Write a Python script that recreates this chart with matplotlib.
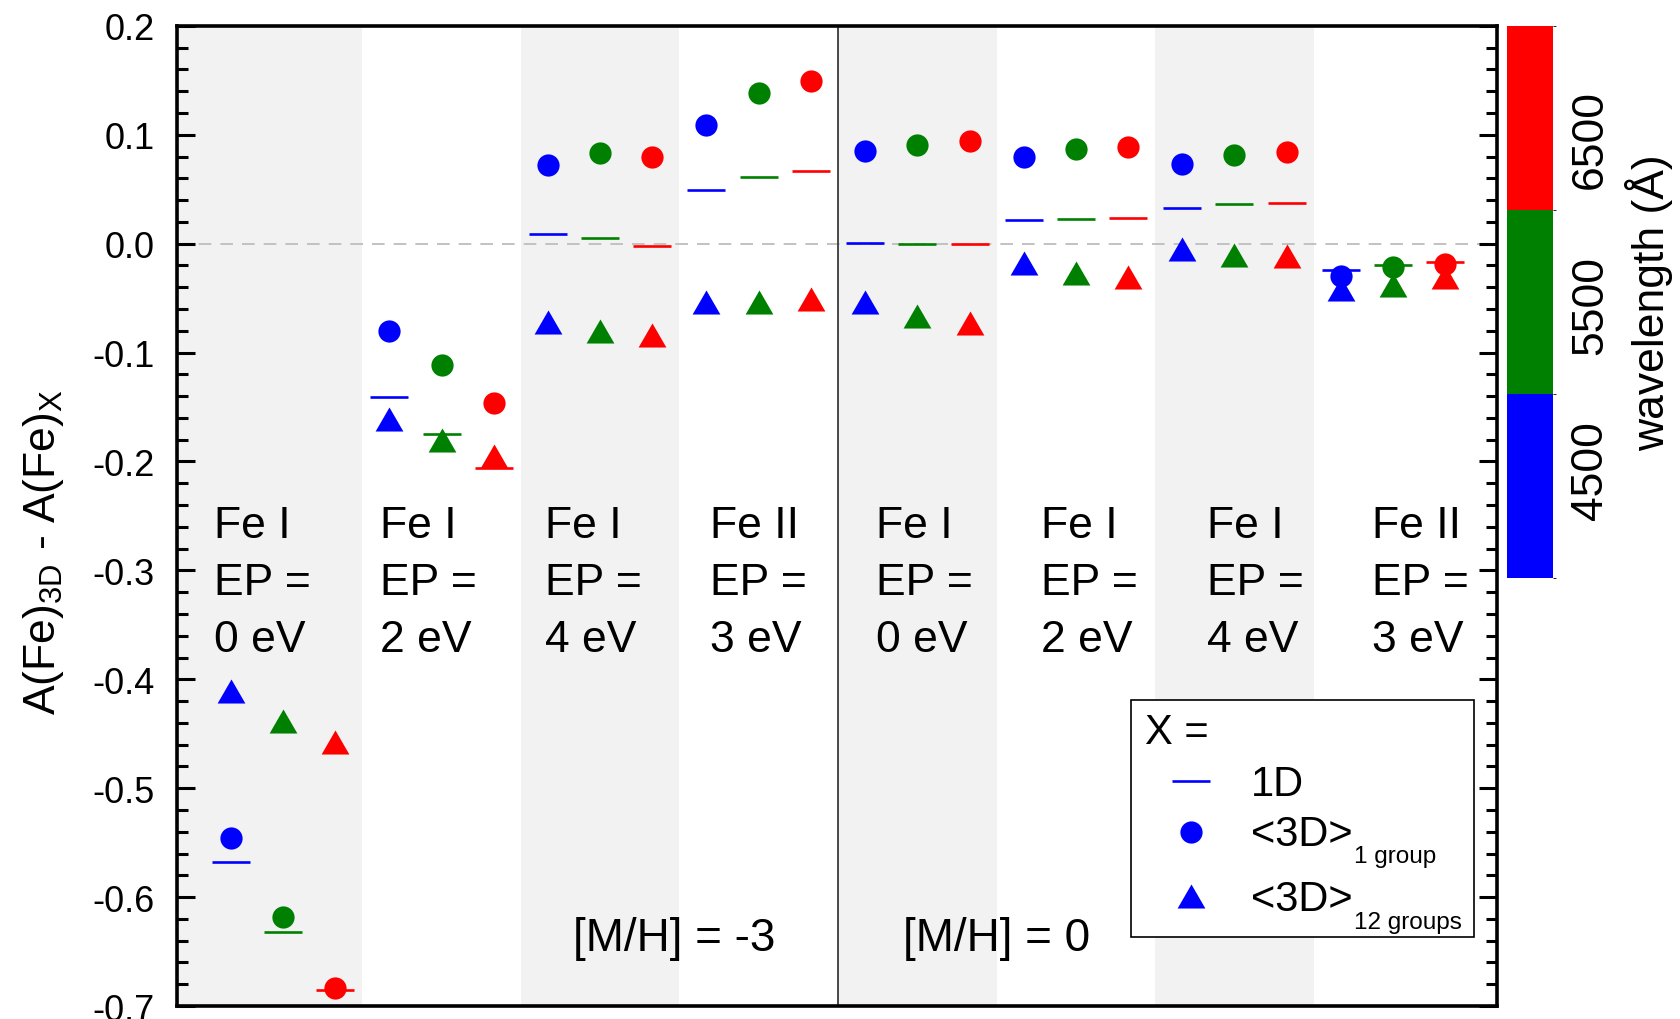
import numpy as np
import matplotlib
matplotlib.use("Agg")
import matplotlib.pyplot as plt
import matplotlib.cm as cm
from matplotlib.colors import ListedColormap, BoundaryNorm
from matplotlib.patches import Rectangle

plt.rcParams['font.family'] = ['Liberation Sans', 'DejaVu Sans']
plt.rcParams['mathtext.default'] = 'regular'

# groups of lines, left 4 at [M/H] = -3, right 4 at [M/H] = 0
species = ["Fe I", "Fe I", "Fe I", "Fe II", "Fe I", "Fe I", "Fe I", "Fe II"]
ep_vals = ["0", "2", "4", "3", "0", "2", "4", "3"]
metallicity = ["-3", "0"]

# wavelength bins and their colours
wavelengths = [4500, 5500, 6500]
wl_colors = ["#0000ff", "#008000", "#ff0000"]
wl_bounds = [3850, 4960, 6070, 7180]

# A(Fe)3D - A(Fe)X, one list per wavelength (4500, 5500, 6500)
diff_1d_4500 = [-0.568, -0.141, 0.009, 0.049, 0.001, 0.022, 0.033, -0.024]
diff_1d_5500 = [-0.632, -0.175, 0.005, 0.061, 0.000, 0.023, 0.036, -0.020]
diff_1d_6500 = [-0.685, -0.206, -0.002, 0.067, 0.000, 0.024, 0.037, -0.017]

diff_1grp_4500 = [-0.546, -0.080, 0.072, 0.109, 0.085, 0.080, 0.073, -0.030]
diff_1grp_5500 = [-0.618, -0.111, 0.083, 0.138, 0.091, 0.087, 0.081, -0.021]
diff_1grp_6500 = [-0.683, -0.146, 0.080, 0.149, 0.094, 0.089, 0.084, -0.019]

diff_12grp_4500 = [-0.411, -0.161, -0.072, -0.054, -0.054, -0.018, -0.005, -0.042]
diff_12grp_5500 = [-0.438, -0.180, -0.080, -0.054, -0.066, -0.027, -0.010, -0.038]
diff_12grp_6500 = [-0.458, -0.195, -0.084, -0.051, -0.073, -0.031, -0.011, -0.031]

diff_1d = [diff_1d_4500, diff_1d_5500, diff_1d_6500]
diff_1grp = [diff_1grp_4500, diff_1grp_5500, diff_1grp_6500]
diff_12grp = [diff_12grp_4500, diff_12grp_5500, diff_12grp_6500]

# equilateral triangle like Origin's
tri = [(0, 0.433), (-0.5, -0.433), (0.5, -0.433)]

fig = plt.figure(figsize=(16.8, 10.2), dpi=100)
ax = fig.add_axes([0.1052, 0.0127, 0.7858, 0.961])

xpos = np.arange(1, len(species) + 1)
xmin, xmax = 0.33, 8.655
ax.set_xlim(xmin, xmax)
ax.set_ylim(-0.7, 0.2)

# alternating shaded bands
for c in xpos[::2]:
    left = c - 0.5 if c > 1 else xmin - 1
    ax.axvspan(left, c + 0.5, color='#f2f2f2', lw=0, zorder=0)

ax.axhline(0, color='#bdbdbd', lw=1.3, dashes=(7, 5), zorder=1)
ax.axvline(4.5, color='#3a3a3a', lw=1.3, zorder=1)

offsets = [-0.33, 0.0, 0.33]
for k in range(3):
    xx = xpos + offsets[k]
    ax.plot(xx, diff_1grp[k], ls='none', marker='o', ms=16, color=wl_colors[k], mew=0, zorder=3)
    ax.plot(xx, diff_12grp[k], ls='none', marker=tri, ms=20, color=wl_colors[k], mew=0, zorder=3)
    ax.plot(xx, diff_1d[k], ls='none', marker='_', ms=27, mew=1.9, color=wl_colors[k], zorder=4)

# group labels
for i in range(len(species)):
    lines = [species[i], "EP =", ep_vals[i] + " eV"]
    for j, s in enumerate(lines):
        ax.text(0.0284 + i * 0.1253, 0.4781 - j * 0.0579, s, transform=ax.transAxes,
                fontsize=32, va='baseline', ha='left', zorder=5)

ax.text(0.300, 0.057, "[M/H] = " + metallicity[0], transform=ax.transAxes, fontsize=33, va='baseline')
ax.text(0.550, 0.057, "[M/H] = " + metallicity[1], transform=ax.transAxes, fontsize=33, va='baseline')

# axes styling
for sp in ax.spines.values():
    sp.set_linewidth(2.6)
ax.set_xticks([])
ax.set_yticks(np.arange(-0.7, 0.21, 0.1))
ax.set_yticks(np.arange(-0.7, 0.2, 0.02), minor=True)
ax.yaxis.set_major_formatter(matplotlib.ticker.FuncFormatter(lambda v, p: f'{round(v, 1) + 0:.1f}'))
ax.tick_params(axis='y', which='both', direction='in', left=True, right=True,
               labelsize=26, pad=16, width=2.2)
ax.tick_params(axis='y', which='major', length=13)
ax.tick_params(axis='y', which='minor', length=8)

fig.text(0.026, 0.459, r'A(Fe)$_{3D}$ - A(Fe)$_{X}$', rotation=90, fontsize=32,
         ha='center', va='center')

# legend drawn by hand (subscripts are much smaller than the label text)
lx0, lx1, ly0, ly1 = 0.7227, 0.9826, 0.0703, 0.3119
ax.add_patch(Rectangle((lx0, ly0), lx1 - lx0, ly1 - ly0, transform=ax.transAxes,
                       facecolor='white', edgecolor='black', lw=1.2, zorder=6))
ax.text(0.7333, 0.2681, "X =", transform=ax.transAxes, fontsize=30, va='baseline', zorder=7)
hx = 0.7682
ax.plot([hx], [0.2294], transform=ax.transAxes, ls='none', marker='_', ms=27, mew=1.9,
        color=wl_colors[0], clip_on=False, zorder=7)
ax.plot([hx], [0.1774], transform=ax.transAxes, ls='none', marker='o', ms=16, mew=0,
        color=wl_colors[0], clip_on=False, zorder=7)
ax.plot([hx], [0.1121], transform=ax.transAxes, ls='none', marker=tri, ms=20, mew=0,
        color=wl_colors[0], clip_on=False, zorder=7)
ax.text(0.8136, 0.2154, "1D", transform=ax.transAxes, fontsize=30, va='baseline', zorder=7)
ax.text(0.8136, 0.1644, "<3D>", transform=ax.transAxes, fontsize=30, va='baseline', zorder=7)
ax.text(0.8917, 0.1465, "1 group", transform=ax.transAxes, fontsize=17.5, va='baseline', zorder=7)
ax.text(0.8136, 0.0976, "<3D>", transform=ax.transAxes, fontsize=30, va='baseline', zorder=7)
ax.text(0.8917, 0.0795, "12 groups", transform=ax.transAxes, fontsize=17.5, va='baseline', zorder=7)

# wavelength colour bar
cax = fig.add_axes([0.8973, 0.4327, 0.0274, 0.541])
cmap = ListedColormap(wl_colors)
norm = BoundaryNorm(wl_bounds, cmap.N)
cb = fig.colorbar(cm.ScalarMappable(norm=norm, cmap=cmap), cax=cax, ticks=wavelengths)
cb.outline.set_visible(False)
cax.tick_params(length=0, pad=12, labelsize=32)
for t in cax.get_yticklabels():
    t.set_rotation(90)
    t.set_va('center')
fig.text(0.9815, 0.703, "wavelength (Å)", rotation=90, fontsize=32, ha='center', va='center')

fig.savefig("out.png", dpi=100)
